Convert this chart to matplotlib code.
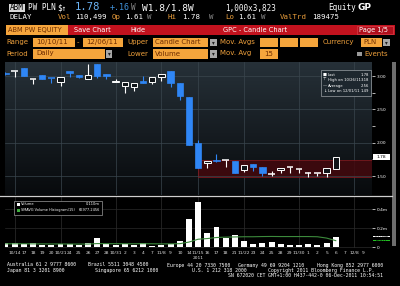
import matplotlib
matplotlib.use("Agg")
import matplotlib.pyplot as plt
import matplotlib.transforms as mtransforms
from matplotlib.patches import Rectangle
import numpy as np

W, H = 400, 286

# ---- values ----
dates = ["", "10/14", "17", "18", "19", "20", "10/21", "24", "25", "26",
         "27", "28", "10/31", "2", "3", "4", "7", "11/8", "9", "10",
         "14", "11/15", "16", "17", "18", "21", "11/22", "23", "24", "25",
         "28", "29", "11/30", "1", "2", "5", "6", "7", "12/8", "9"]
grid_days = [1, 6, 12, 17, 21, 26, 32, 38]

opens = [3.05, 3.08, 3.12, 2.955, 3.02, 2.97, 2.915, 3.08, 3.02, 2.95,
         3.18, 3.03, 2.905, 2.85, 2.84, 2.925, 2.91, 2.98, 3.08, 2.89,
         2.69, 1.99, 1.69, 1.74, 1.735, 1.73, 1.59, 1.68, 1.63, 1.53,
         1.59, 1.63, 1.60, 1.54, 1.54, 1.54, 1.61]
highs = [3.06, 3.08, 3.12, 2.955, 3.02, 2.97, 2.98, 3.08, 3.02, 3.18,
         3.18, 3.03, 2.96, 2.91, 2.90, 3.00, 2.98, 3.03, 3.08, 2.89,
         2.69, 2.04, 1.73, 1.83, 1.74, 1.73, 1.665, 1.68, 1.63, 1.58,
         1.615, 1.63, 1.60, 1.565, 1.54, 1.62, 1.78]
lows = [3.01, 2.99, 3.00, 2.88, 2.955, 2.90, 2.85, 2.99, 2.965, 2.95,
        2.97, 2.955, 2.905, 2.75, 2.78, 2.89, 2.88, 2.93, 2.84, 2.64,
        1.965, 1.615, 1.615, 1.715, 1.64, 1.54, 1.565, 1.57, 1.50, 1.50,
        1.54, 1.54, 1.54, 1.49, 1.50, 1.49, 1.61]
closes = [3.03, 3.08, 3.00, 2.955, 2.96, 2.96, 2.98, 3.05, 2.99, 3.01,
          3.00, 3.00, 2.93, 2.91, 2.90, 2.90, 2.98, 3.03, 2.89, 2.70,
          1.965, 1.615, 1.73, 1.72, 1.74, 1.54, 1.665, 1.63, 1.54, 1.53,
          1.615, 1.63, 1.60, 1.54, 1.54, 1.62, 1.78]

volume_m = [0.04, 0.045, 0.03, 0.04, 0.018, 0.018, 0.03, 0.03, 0.018, 0.04,
            0.10, 0.03, 0.02, 0.03, 0.02, 0.04, 0.015, 0.02, 0.03, 0.063,
            0.295, 0.477, 0.144, 0.214, 0.10, 0.126, 0.066, 0.032, 0.046, 0.056,
            0.032, 0.025, 0.025, 0.03, 0.02, 0.04, 0.110]
smavg_m = [0.034, 0.034, 0.034, 0.033, 0.033, 0.032, 0.032, 0.031, 0.031, 0.031,
           0.036, 0.035, 0.035, 0.034, 0.034, 0.035, 0.034, 0.033, 0.033, 0.035,
           0.052, 0.082, 0.089, 0.100, 0.104, 0.106, 0.108, 0.108, 0.110, 0.111,
           0.110, 0.110, 0.110, 0.110, 0.108, 0.094, 0.067]

price_ticks = [1.5, 2.0, 2.5, 3.0]
volume_ticks = [0.0, 0.2, 0.4]
volume_tick_labels = ["0", "0.2m", "0.4m"]

BLUE = "#2f86f5"
AMBER = "#eea03c"
BOX = "#f5a53c"
BOX_TXT = "#6e2c00"
RED = "#c2121e"
GREEN = "#3fae3f"
MONO = "DejaVu Sans Mono"


def frac(l, t, r, b):
    return [l / W, 1 - b / H, (r - l) / W, (b - t) / H]


fig = plt.figure(figsize=(W / 100, H / 100), dpi=100, facecolor="black")

ax_bg = fig.add_axes([0, 0, 1, 1], zorder=0)
ax_bg.set_facecolor("black")
grad = np.linspace(0, 1, 100).reshape(-1, 1)
top_c = np.array([0.15, 0.19, 0.22])
bot_c = np.array([0.03, 0.04, 0.05])
img = top_c * (1 - grad[..., None]) + bot_c * grad[..., None]
ax_bg.imshow(img, extent=[5, 372, 195, 62], aspect="auto", interpolation="bilinear")
ax_bg.set_xlim(0, W)
ax_bg.set_ylim(H, 0)
ax_bg.axis("off")

ax_top = fig.add_axes([0, 0, 1, 1], zorder=5)
ax_top.set_xlim(0, W)
ax_top.set_ylim(H, 0)
ax_top.patch.set_alpha(0)
ax_top.axis("off")


def txt(x, y, s, color="white", size=5.3, ha="left", **kw):
    ax_top.text(x, y, s, color=color, fontsize=size, ha=ha, va="center", **kw)


def box(x0, y0, x1, y1, fc=BOX, ec="none", lw=0.5):
    ax_top.add_patch(Rectangle((x0, y0), x1 - x0, y1 - y0, fc=fc, ec=ec, lw=lw))


def dropdown(x0, y0, x1, y1):
    box(x0, y0, x1, y1, fc="#a8a8a8")
    txt((x0 + x1) / 2, (y0 + y1) / 2, "▾", color="#202020", size=4, ha="center")


# ---- header rows ----
box(9, 3.5, 24.5, 12, fc="#d8d8d8")
txt(9.5, 8, "ABM", color="black", size=5.5, family=MONO)
txt(28, 8, "PW PLN", size=5.5, family=MONO)
txt(57, 8, "$↑", size=5.5, family=MONO)
txt(75, 7.4, "1.78", color="#6cb4f5", size=7.6, family=MONO)
txt(110, 8, "+.16", color="#3f8fd6", size=6, family=MONO)
txt(131, 8, "W", color="#8a8a8a", size=5.5, family=MONO)
txt(142, 8, "W1.8/1.8W", size=6.8, family=MONO)
txt(225, 8, "1,000x3,823", size=5.5, family=MONO)
txt(328, 8, "Equity", size=5.5, family=MONO)
txt(357, 8, "GP", weight="bold", size=6.5)

row2 = [(10, "DELAY", "white"), (58, "Vol", AMBER), (75, "110,499", "white"),
        (112, "Op", AMBER), (125, "1.61", "white"), (147, "W", "#8a8a8a"),
        (168, "Hi", AMBER), (182, "1.78", "white"), (209, "W", "#8a8a8a"),
        (225, "Lo", AMBER), (238, "1.61", "white"), (261, "W", "#8a8a8a"),
        (280, "ValTrd", AMBER), (312, "189475", "white")]
for x, s, c in row2:
    txt(x, 17.2, s, color=c, size=5.3, family=MONO)

box(68, 25, 395, 34.5, fc=RED)
box(6, 25, 68, 34.5)
txt(8, 29.8, "ABM PW EQUITY", color=BOX_TXT, size=4.8)
txt(74, 29.8, "Save Chart", size=4.8)
txt(130, 29.8, "Hide", size=4.8)
txt(223, 29.8, "GPC - Candle Chart", size=4.8)
box(357, 25.5, 393, 34, fc="#b00f1c", ec="#e04a55", lw=0.4)
txt(359, 29.8, "Page 1/5", size=4.8)

# row 4
txt(6, 42, "Range", color=AMBER, size=5)
box(33, 37.5, 75, 47)
txt(36, 42, "10/10/11", color=BOX_TXT, size=5)
txt(77, 42, "-", color=AMBER, size=5)
box(83, 37.5, 123, 47)
txt(86, 42, "12/06/11", color=BOX_TXT, size=5)
txt(127, 42, "Upper", color=AMBER, size=5)
box(153, 37.5, 208, 47)
txt(155, 42, "Candle Chart", color=BOX_TXT, size=5)
dropdown(210, 38.5, 217, 46)
txt(220, 42, "Mov. Avgs", color=AMBER, size=5)
box(260, 37.5, 278, 47)
box(280, 37.5, 298, 47)
box(300, 37.5, 318, 47)
txt(323, 42, "Currency", color=AMBER, size=5)
box(361, 37.5, 382, 47)
txt(363, 42, "PLN", color=BOX_TXT, size=5)
dropdown(383, 38.5, 390, 46)

# row 5
txt(6, 53.5, "Period", color=AMBER, size=5)
box(33, 49, 105, 58.5)
txt(36, 53.5, "Daily", color=BOX_TXT, size=5)
dropdown(106, 50, 112, 57.5)
txt(127, 53.5, "Lower", color=AMBER, size=5)
box(153, 49, 208, 58.5)
txt(155, 53.5, "Volume", color=BOX_TXT, size=5)
dropdown(210, 50, 217, 57.5)
txt(220, 53.5, "Mov. Avg", color=AMBER, size=5)
box(260, 49, 278, 58.5)
txt(264, 53.5, "15", color=BOX_TXT, size=5)
box(357, 51.5, 361.5, 56, fc="#9a9a9a")
txt(364, 53.5, "Events", color=AMBER, size=5)

# ---- price panel ----
ax_p = fig.add_axes(frac(5, 62, 372, 195), zorder=2)
ax_p.patch.set_alpha(0)
idx = np.arange(len(closes))
for i in idx:
    o, h, l, c = opens[i], highs[i], lows[i], closes[i]
    up = c >= o
    col = "white" if up else BLUE
    ax_p.vlines(i, l, h, color=col, lw=0.8, zorder=3)
    lo_b, hi_b = min(o, c), max(o, c)
    if hi_b - lo_b < 0.012:
        ax_p.hlines(o, i - 0.35, i + 0.35, color=col, lw=1.1, zorder=4)
    elif up:
        ax_p.add_patch(Rectangle((i - 0.35, lo_b), 0.7, hi_b - lo_b, fc="#11161a",
                                 ec="white", lw=0.7, zorder=4))
    else:
        ax_p.add_patch(Rectangle((i - 0.35, lo_b), 0.7, hi_b - lo_b, fc=BLUE,
                                 ec=BLUE, lw=0.5, zorder=4))

# shaded band after the drop
ax_p.add_patch(Rectangle((21, 1.485), 19.5, 0.255, fc="#44080d", ec="#8a1a20",
                         lw=0.6, alpha=0.85, zorder=1))

ax_p.set_xlim(-0.05, 39.95)
ax_p.set_ylim(1.215, 3.21)
ax_p.yaxis.tick_right()
ax_p.set_yticks(price_ticks)
ax_p.set_yticklabels([f"{t:.2f}" for t in price_ticks])
ax_p.set_yticks([1.75, 2.25, 2.75], minor=True)
ax_p.tick_params(axis="y", which="both", colors="white", labelsize=3.2,
                 length=1.8, width=0.5, pad=1.5)
ax_p.tick_params(axis="x", length=0, labelbottom=False)
ax_p.grid(axis="y", color="#3a464e", lw=0.5)
for d in grid_days:
    ax_p.axvline(d, color="#3a464e", lw=0.5, zorder=0)
for s in ax_p.spines.values():
    s.set_visible(False)

# last-price tag
blend_p = mtransforms.blended_transform_factory(ax_p.transAxes, ax_p.transData)
ax_p.add_patch(Rectangle((1.003, closes[-1] - 0.045), 0.046, 0.09, fc="white",
                         transform=blend_p, clip_on=False, zorder=6))
ax_p.text(1.026, closes[-1], f"{closes[-1]:.2f}", transform=blend_p, color="black",
          fontsize=3.2, ha="center", va="center", zorder=7)

# price legend
box(320.7, 70, 370.7, 95.5, fc="#1d272e", ec="#9aa0a4", lw=0.5)
leg_rows = [("■", "Last", "1.78", 75), ("⊤", "High on 10/26/11", "3.18", 80.3),
            ("—", "Average", "2.56", 85.6), ("↓", "Low on 12/01/11", "1.49", 91)]
for icon, lab, val, y in leg_rows:
    txt(323, y, icon, size=3)
    txt(327.5, y, lab, size=2.7)
    txt(369, y, val, size=2.7, ha="right")

# ---- volume panel ----
ax_v = fig.add_axes(frac(5, 196, 372, 248), zorder=2)
ax_v.patch.set_alpha(0)
ax_v.bar(idx, volume_m, width=0.65, color="white", zorder=3)
ax_v.plot(idx, smavg_m, color="#3c8a3c", lw=0.8, zorder=4)
ax_v.set_xlim(-0.05, 39.95)
ax_v.set_ylim(-0.0105, 0.537)
ax_v.yaxis.tick_right()
ax_v.set_yticks(volume_ticks)
ax_v.set_yticklabels(volume_tick_labels)
ax_v.tick_params(axis="y", colors="white", labelsize=3.2, length=1.8, width=0.5, pad=1.5)
ax_v.set_xticks(range(len(dates)))
ax_v.set_xticklabels(dates)
ax_v.tick_params(axis="x", colors="#e0e0e0", labelsize=3.2, length=0, pad=2.2)
ax_v.grid(axis="y", color="#2a2a2a", lw=0.5)
for d in grid_days:
    ax_v.axvline(d, color="#2e2e2e", lw=0.5, zorder=0)
for s in ax_v.spines.values():
    s.set_visible(False)
ax_v.text(21, -0.115, "2011", color="#e0e0e0", fontsize=3.2, ha="center",
          va="center", transform=ax_v.transData, clip_on=False)

blend_v = mtransforms.blended_transform_factory(ax_v.transAxes, ax_v.transData)
ax_v.add_patch(Rectangle((1.003, volume_m[-1] - 0.008), 0.046, 0.0155, fc="white",
                         transform=blend_v, clip_on=False, zorder=6))
ax_v.text(1.026, volume_m[-1], f"{volume_m[-1]:.3f}m", transform=blend_v, color="black",
          fontsize=2.6, ha="center", va="center", zorder=7)
ax_v.add_patch(Rectangle((1.003, smavg_m[-1] - 0.0075), 0.046, 0.0155, fc="#22c022",
                         transform=blend_v, clip_on=False, zorder=6))
ax_v.text(1.026, smavg_m[-1], "66977", transform=blend_v, color="black",
          fontsize=2.6, ha="center", va="center", zorder=7)

# volume legend
box(14, 201, 102, 214.5, fc="black", ec="#9a9a9a", lw=0.5)
box(17, 202.8, 19.6, 205.8, fc="white")
txt(21, 204.4, "Volume", size=2.6)
txt(100, 204.4, f"{volume_m[-1]:.3f}m", size=2.6, ha="right")
box(17, 208.8, 19.6, 211.8, fc=GREEN)
txt(21, 210.4, "SMAVG Volume Histogram(15)", size=2.5)
txt(100, 210.4, "66977.2456", size=2.5, ha="right")

# separator, scrollbar
ax_top.plot([0, 392], [196, 196], color="#cfcfcf", lw=0.9)
box(392, 62, 396, 246, fc="#6e6e6e")

# ---- footer ----
footer = [(7, 265, "Australia 61 2 9777 8600"), (88, 265, "Brazil 5511 3048 4500"),
          (167, 265, "Europe 44 20 7330 7500"), (238, 265, "Germany 49 69 9204 1210"),
          (317, 265, "Hong Kong 852 2977 6000"),
          (7, 270.3, "Japan 81 3 3201 8900"), (95, 270.3, "Singapore 65 6212 1000"),
          (192, 270.3, "U.S. 1 212 318 2000"),
          (268, 270.3, "Copyright 2011 Bloomberg Finance L.P."),
          (228, 275.3, "SN 672020 CET"),
          (268, 275.3, "GMT+1:00 H437-442-0 06-Dec-2011 10:54:51")]
for x, y, s in footer:
    txt(x, y, s, size=3.5, family=MONO)

fig.savefig("out.png", dpi=100, facecolor="black")
